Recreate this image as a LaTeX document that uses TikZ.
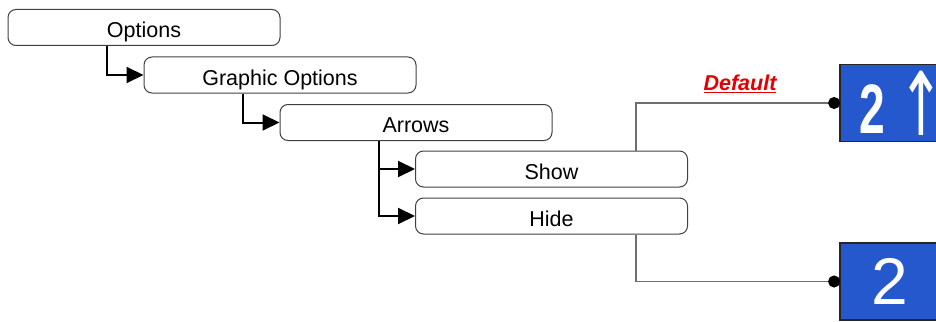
\documentclass[tikz,border=0pt]{standalone}
\usepackage{fontspec}
\setmainfont{Liberation Sans}
\newfontfamily\symfont{DejaVu Sans}
\usetikzlibrary{arrows.meta,calc}
\definecolor{boxblue}{RGB}{36,88,204}
\definecolor{defred}{RGB}{226,0,0}
\definecolor{linegray}{RGB}{110,110,110}
\tikzset{
  menubox/.style={draw=black!75, line width=1pt, rounded corners=8pt,
    minimum width=272pt, minimum height=36pt, inner sep=0pt,
    text height=20pt, text depth=0pt,
    font=\fontsize{21.5}{21.5}\selectfont},
  conn/.style={draw=black, line width=2pt, -{Triangle[length=17pt,width=16pt]}},
  valconn/.style={draw=linegray, line width=1.4pt, -{Circle[length=12pt,black]}},
  bluebox/.style={draw=black!85, line width=1.8pt, fill=boxblue, text=white,
    minimum height=77pt, inner sep=0pt},
}
\begin{document}
\begin{tikzpicture}[x=1pt,y=-1pt]
\useasboundingbox (0,0) rectangle (936,321);
\clip (0,0) rectangle (936,321);
\node[menubox] (opt)  at (144,27.5) {Options};
\node[menubox] (gopt) at (280,75)   {Graphic Options};
\node[menubox] (arr)  at (416,122.5) {Arrows};
\node[menubox] (show) at (551.5,169) {Show};
\node[menubox] (hide) at (551.5,216) {Hide};
\node[bluebox, minimum width=110pt] (b1) at (895,103) {\makebox[110pt][l]{\hspace{19.5pt}\scalebox{0.66}[1]{\bfseries\fontsize{70}{70}\selectfont 2}\hspace{12.8pt}\raisebox{-2pt}{\scalebox{0.62}[1]{\symfont\fontsize{88}{88}\selectfont ↑}}}};
\node[bluebox, minimum width=100pt] (b2) at (890,281.5) {\fontsize{66}{66}\selectfont 2};
\draw[conn] ([xshift=-37pt]opt.south) |- (gopt.west);
\draw[conn] ([xshift=-37pt]gopt.south) |- (arr.west);
\draw[conn] ([xshift=-37pt]arr.south) |- (show.west);
\draw[conn] ([xshift=-37pt]arr.south) |- (hide.west);
\draw[valconn] ([xshift=84.5pt]show.north) |- ([xshift=1pt]b1.west);
\draw[valconn] ([xshift=84.5pt]hide.south) |- ([xshift=1pt]b2.west);
\node[text=defred, font=\bfseries\itshape\fontsize{21.5}{21.5}\selectfont, inner sep=0pt] (def) at (740,83.5) {\underline{Default}};
\end{tikzpicture}
\end{document}
